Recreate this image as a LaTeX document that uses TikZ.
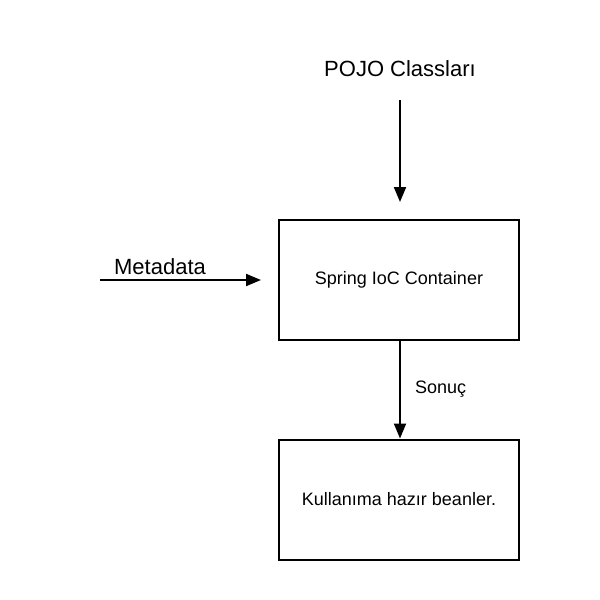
\documentclass[tikz,border=0pt]{standalone}
\usepackage{fontspec}
\setmainfont{Liberation Sans}
\usetikzlibrary{arrows.meta}
\begin{document}
\begin{tikzpicture}[x=1pt,y=-1pt,
  box/.style={draw, line width=2pt, minimum width=240pt, minimum height=120pt, inner sep=0pt, font=\fontsize{18}{20}\selectfont},
  conn/.style={line width=2pt, -{Triangle[length=15pt,width=12pt]}},
  lbl/.style={inner sep=0pt, font=\fontsize{22}{24}\selectfont},
  small/.style={inner sep=0pt, font=\fontsize{18}{20}\selectfont}]
\useasboundingbox (0,0) rectangle (600,600);
\node[box] (ioc) at (399,279.5) {Spring IoC Container};
\node[box] (beans) at (399,499.5) {Kullanıma hazır beanler.};
\node[lbl] (pojo) at (400,69) {POJO Classları};
\node[lbl] (meta) at (160,267) {Metadata};
\coordinate (ptop) at (400,100);
\coordinate (mleft) at (100,280);
\coordinate (mend) at (261,280);
\draw[conn] (ptop) -- (400,202);
\draw[conn] (mleft) -- (mend);
\draw[conn] (ioc.south -| ptop) -- (beans.north -| ptop) node[midway, right=14pt, small] (son) {Sonuç};
\end{tikzpicture}
\end{document}
